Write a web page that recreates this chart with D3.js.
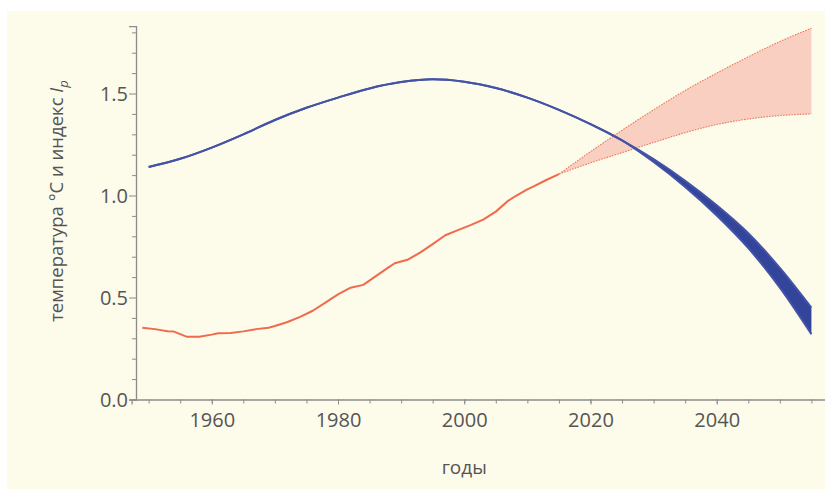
<!DOCTYPE html>
<html>
<head>
<meta charset="utf-8">
<script src="https://cdn.jsdelivr.net/npm/d3@7"></script>
<style>
  html, body { margin: 0; padding: 0; background: #ffffff; }
  svg { display: block; }
  text { font-family: "Open Sans", "Noto Sans", sans-serif; fill: #555555; }
</style>
</head>
<body>
<div id="chart"></div>
<script>
// index I_p (blue), band after ~2025
var blueYears = [1950, 1955, 1960, 1965, 1970, 1975, 1980, 1985, 1990, 1995, 2000, 2005, 2010, 2015, 2020, 2025, 2030, 2035, 2040, 2045, 2050, 2055];
var blueUpper = [1.14, 1.18, 1.235, 1.30, 1.37, 1.43, 1.48, 1.525, 1.556, 1.57, 1.558, 1.527, 1.48, 1.42, 1.35, 1.27, 1.178, 1.072, 0.952, 0.815, 0.645, 0.45];
var blueLower = [1.14, 1.18, 1.235, 1.30, 1.37, 1.43, 1.48, 1.525, 1.556, 1.57, 1.558, 1.527, 1.48, 1.42, 1.35, 1.27, 1.164, 1.042, 0.902, 0.742, 0.548, 0.32];

// observed temperature (red)
var tempYears = [1949, 1951, 1953, 1954, 1956, 1958, 1960, 1961, 1963, 1965, 1967, 1969, 1970, 1972, 1974, 1976, 1978, 1980, 1982, 1984, 1986, 1988, 1989, 1991, 1993, 1995, 1997, 1999, 2001, 2003, 2005, 2007, 2008, 2010, 2011, 2013, 2015];
var tempValues = [0.352, 0.345, 0.335, 0.333, 0.308, 0.308, 0.318, 0.325, 0.326, 0.334, 0.345, 0.352, 0.36, 0.38, 0.405, 0.435, 0.475, 0.515, 0.548, 0.562, 0.605, 0.648, 0.668, 0.685, 0.72, 0.762, 0.805, 0.83, 0.855, 0.882, 0.921, 0.975, 0.995, 1.03, 1.045, 1.076, 1.105];

// projected temperature range (pink)
var projYears = [2015, 2020, 2025, 2030, 2035, 2040, 2045, 2050, 2055];
var projUpper = [1.105, 1.215, 1.32, 1.42, 1.515, 1.60, 1.68, 1.755, 1.82];
var projLower = [1.105, 1.16, 1.21, 1.26, 1.308, 1.348, 1.375, 1.392, 1.40];

// axis ticks
var xMajorTicks = [1960, 1980, 2000, 2020, 2040];
var xMinorTicks = [1950, 1955, 1960, 1965, 1970, 1975, 1980, 1985, 1990, 1995, 2000, 2005, 2010, 2015, 2020, 2025, 2030, 2035, 2040, 2045, 2050, 2055];
var yMajorTicks = [0, 0.5, 1.0, 1.5];
var yMinorTicks = [0.1, 0.2, 0.3, 0.4, 0.6, 0.7, 0.8, 0.9, 1.1, 1.2, 1.3, 1.4, 1.6, 1.7, 1.8];

var xLabel = 'годы';
var yLabel = 'температура °С и индекс ';

var width = 825, height = 489;

var svg = d3.select('#chart').append('svg')
    .attr('width', width)
    .attr('height', height);

// cream panel
svg.append('rect')
    .attr('x', 7).attr('y', 11)
    .attr('width', width - 7).attr('height', height - 11)
    .attr('fill', '#fdfbea');

// scales
var x = d3.scaleLinear().domain([1947.3, 2057.2]).range([131.6, 825.3]);
var y = d3.scaleLinear().domain([0, 1.83]).range([399.5, 26.2]);

function zipped(years, a, b) {
    return years.map(function (yr, i) { return { year: yr, hi: a[i], lo: b ? b[i] : a[i] }; });
}

var plot = svg.append('g').attr('class', 'plot');

// pink projection band
var proj = zipped(projYears, projUpper, projLower);
plot.append('path')
    .datum(proj)
    .attr('fill', '#f9cfc1')
    .attr('d', d3.area().curve(d3.curveMonotoneX)
        .x(function (d) { return x(d.year); })
        .y0(function (d) { return y(d.lo); })
        .y1(function (d) { return y(d.hi); }));
['hi', 'lo'].forEach(function (k) {
    plot.append('path')
        .datum(proj)
        .attr('fill', 'none')
        .attr('stroke', '#ec7a5e')
        .attr('stroke-width', 1.1)
        .attr('stroke-dasharray', '1.6,1.2')
        .attr('d', d3.line().curve(d3.curveMonotoneX)
            .x(function (d) { return x(d.year); })
            .y(function (d) { return y(d[k]); }));
});

// observed temperature line
plot.append('path')
    .datum(zipped(tempYears, tempValues))
    .attr('fill', 'none')
    .attr('stroke', '#f06a4c')
    .attr('stroke-width', 2)
    .attr('stroke-linejoin', 'round')
    .attr('d', d3.line()
        .x(function (d) { return x(d.year); })
        .y(function (d) { return y(d.hi); }));

// blue index line / band
var blue = zipped(blueYears, blueUpper, blueLower);
plot.append('path')
    .datum(blue)
    .attr('fill', '#33449b')
    .attr('d', d3.area().curve(d3.curveMonotoneX)
        .x(function (d) { return x(d.year); })
        .y0(function (d) { return y(d.lo); })
        .y1(function (d) { return y(d.hi); }));
['hi', 'lo'].forEach(function (k) {
    plot.append('path')
        .datum(blue)
        .attr('fill', 'none')
        .attr('stroke', '#4453a6')
        .attr('stroke-width', 2)
        .attr('d', d3.line().curve(d3.curveMonotoneX)
            .x(function (d) { return x(d.year); })
            .y(function (d) { return y(d[k]); }));
});

// x axis
var xAxis = svg.append('g')
    .attr('transform', 'translate(0,' + y(0) + ')');
xAxis.append('g')
    .call(d3.axisBottom(x).tickValues(xMinorTicks).tickSize(4).tickFormat(''))
    .call(function (g) { g.select('.domain').remove(); });
xAxis.append('g')
    .call(d3.axisBottom(x).tickValues(xMajorTicks).tickSize(5).tickPadding(0).tickFormat(d3.format('d')))
    .call(function (g) {
        g.select('.domain').attr('stroke', '#8c8c8c').attr('stroke-width', 1.3);
        g.selectAll('text').attr('y', 27.5).attr('dy', 0)
            .style('font-size', '20px').style('fill', '#555555').style('font-family', '"Open Sans", sans-serif');
    });
xAxis.selectAll('.tick line').attr('stroke', '#8c8c8c');

// y axis
var yAxis = svg.append('g')
    .attr('transform', 'translate(136,0)');
yAxis.append('g')
    .call(d3.axisLeft(y).tickValues(yMinorTicks).tickSize(4).tickFormat(''))
    .call(function (g) { g.select('.domain').remove(); });
yAxis.append('g')
    .call(d3.axisLeft(y).tickValues(yMajorTicks).tickSize(7).tickPadding(1).tickFormat(d3.format('.1f')))
    .call(function (g) {
        g.select('.domain').attr('stroke', '#8c8c8c').attr('stroke-width', 1.3);
        g.selectAll('text').attr('dy', '0.36em')
            .style('font-size', '20px').style('fill', '#555555').style('font-family', '"Open Sans", sans-serif');
    });
yAxis.selectAll('.tick line').attr('stroke', '#8c8c8c');

// axis titles
svg.append('text')
    .attr('x', x(2000))
    .attr('y', 474)
    .attr('text-anchor', 'middle')
    .style('font-size', '19px')
    .text(xLabel);

var yt = svg.append('text')
    .attr('transform', 'translate(63,201) rotate(-90)')
    .attr('text-anchor', 'middle')
    .style('font-size', '18.5px');
yt.append('tspan').text(yLabel);
yt.append('tspan').style('font-style', 'italic').text('I');
yt.append('tspan').style('font-style', 'italic').style('font-size', '13px').attr('dy', 5).text('p');
</script>
</body>
</html>
